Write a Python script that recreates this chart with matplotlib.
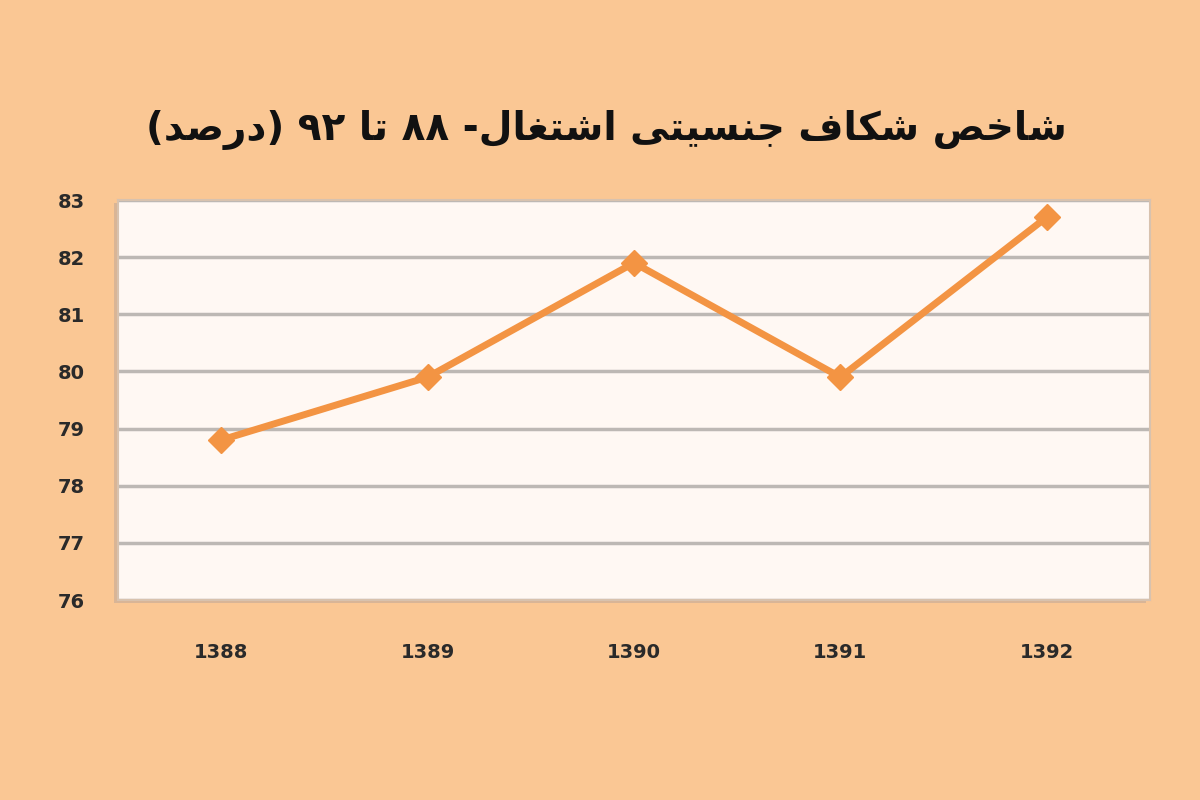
import matplotlib
matplotlib.use("Agg")
from matplotlib import pyplot as plt

# data
years = ["1388", "1389", "1390", "1391", "1392"]
values = [78.8, 79.9, 81.9, 79.9, 82.7]
y_ticks = [76, 77, 78, 79, 80, 81, 82, 83]
title = "شاخص شکاف جنسیتی اشتغال- ۸۸ تا ۹۲ (درصد)"

# presentation forms: (isolated, final, initial, medial); 2-tuples join only to the right
FORMS = {
    "ا": ("\uFE8D", "\uFE8E"),
    "د": ("\uFEA9", "\uFEAA"),
    "ر": ("\uFEAD", "\uFEAE"),
    "ت": ("\uFE95", "\uFE96", "\uFE97", "\uFE98"),
    "ج": ("\uFE9D", "\uFE9E", "\uFE9F", "\uFEA0"),
    "خ": ("\uFEA5", "\uFEA6", "\uFEA7", "\uFEA8"),
    "س": ("\uFEB1", "\uFEB2", "\uFEB3", "\uFEB4"),
    "ش": ("\uFEB5", "\uFEB6", "\uFEB7", "\uFEB8"),
    "ص": ("\uFEB9", "\uFEBA", "\uFEBB", "\uFEBC"),
    "غ": ("\uFECD", "\uFECE", "\uFECF", "\uFED0"),
    "ف": ("\uFED1", "\uFED2", "\uFED3", "\uFED4"),
    "ل": ("\uFEDD", "\uFEDE", "\uFEDF", "\uFEE0"),
    "ن": ("\uFEE5", "\uFEE6", "\uFEE7", "\uFEE8"),
    "ک": ("\uFB8E", "\uFB8F", "\uFB90", "\uFB91"),
    "ی": ("\uFBFC", "\uFBFD", "\uFBFE", "\uFBFF"),
}
MIRROR = {"(": ")", ")": "("}


def shape(word):
    out = []
    for i, ch in enumerate(word):
        f = FORMS.get(ch)
        if f is None:
            out.append(ch)
            continue
        prev = word[i - 1] if i > 0 else ""
        nxt = word[i + 1] if i + 1 < len(word) else ""
        joins_prev = prev in FORMS and len(FORMS[prev]) == 4
        joins_next = len(f) == 4 and nxt in FORMS
        if joins_prev and joins_next:
            out.append(f[3])
        elif joins_prev:
            out.append(f[1])
        elif joins_next:
            out.append(f[2])
        else:
            out.append(f[0])
    return "".join(out)


def rtl(text):
    words = []
    for w in reversed(text.split(" ")):
        if any(c in FORMS for c in w):
            w = "".join(MIRROR.get(c, c) for c in reversed(shape(w)))
        words.append(w)
    return " ".join(words)


bg = "#FAC794"
line_color = "#F39443"

fig = plt.figure(figsize=(12, 8), dpi=100, facecolor=bg)
ax = fig.add_axes([0.0983, 0.25, 0.86, 0.5])
ax.set_facecolor("#FFF8F3")
ax.set_zorder(2)

# soft shadow on the plot area
shadow = plt.Rectangle((0.0983 - 0.003, 0.25 - 0.004), 0.86, 0.5,
                       transform=fig.transFigure, facecolor="#D9B596",
                       edgecolor="none", zorder=0)
fig.patches.append(shadow)

x = list(range(len(years)))
ax.plot(x, values, color=line_color, linewidth=5, marker="D", markersize=13,
        solid_joinstyle="miter", zorder=3)

ax.set_xlim(-0.5, len(years) - 0.5)
ax.set_ylim(76, 83)
ax.set_yticks(y_ticks)
ax.set_xticks(x)
ax.set_xticklabels(years)
ax.grid(axis="y", color="#BDB8B4", linewidth=2.5)
ax.set_axisbelow(True)
ax.tick_params(axis="both", length=0, labelsize=14, labelcolor="#2A2A2A")
ax.tick_params(axis="x", pad=31)
ax.tick_params(axis="y", pad=24)
for lab in ax.get_xticklabels() + ax.get_yticklabels():
    lab.set_fontweight("bold")
for s in ax.spines.values():
    s.set_color("#D8C2AE")
    s.set_linewidth(1.5)

fig.text(0.505, 0.838, rtl(title), ha="center", va="center", fontsize=28,
         fontweight="bold", color="#111111",
         family=["DejaVu Sans", "Noto Sans"])

fig.savefig("out.png", dpi=100, facecolor=bg)
